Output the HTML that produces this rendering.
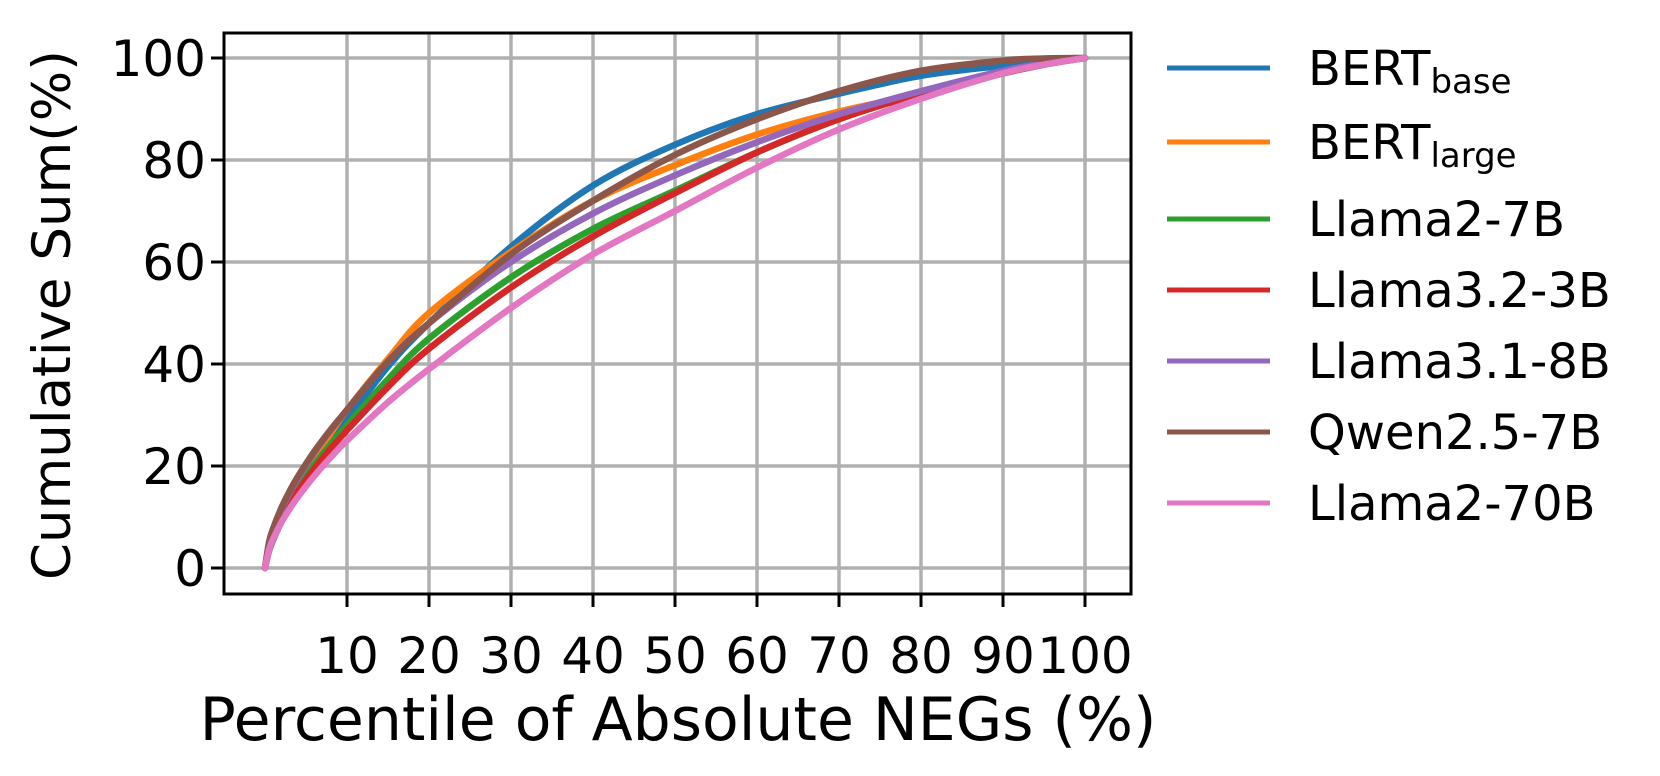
<!DOCTYPE html>
<html><head><meta charset="utf-8"><style>
html,body{margin:0;padding:0;background:#fff;}
svg{display:block;font-family:"DejaVu Sans","Liberation Sans",sans-serif;}
</style></head><body>
<svg id="s" width="1660" height="776" viewBox="0 0 1660 776" xmlns="http://www.w3.org/2000/svg">
<rect width="1660" height="776" fill="#fff"/>
<g stroke="#b0b0b0" stroke-width="3.5">
<line x1="347" y1="33" x2="347" y2="594"/><line x1="429" y1="33" x2="429" y2="594"/><line x1="511" y1="33" x2="511" y2="594"/><line x1="593" y1="33" x2="593" y2="594"/><line x1="675" y1="33" x2="675" y2="594"/><line x1="757" y1="33" x2="757" y2="594"/><line x1="839" y1="33" x2="839" y2="594"/><line x1="921" y1="33" x2="921" y2="594"/><line x1="1003" y1="33" x2="1003" y2="594"/><line x1="1085" y1="33" x2="1085" y2="594"/>
<line x1="224" y1="568" x2="1131" y2="568"/><line x1="224" y1="466" x2="1131" y2="466"/><line x1="224" y1="364" x2="1131" y2="364"/><line x1="224" y1="262" x2="1131" y2="262"/><line x1="224" y1="160" x2="1131" y2="160"/><line x1="224" y1="58" x2="1131" y2="58"/>
</g>
<g id="curves" fill="none" stroke-width="6.5" stroke-linejoin="round" stroke-linecap="round"></g>
<rect x="224" y="33" width="907" height="561" fill="none" stroke="#000" stroke-width="3"/>
<g stroke="#000" stroke-width="3">
<line x1="347" y1="594" x2="347" y2="607"/><line x1="429" y1="594" x2="429" y2="607"/><line x1="511" y1="594" x2="511" y2="607"/><line x1="593" y1="594" x2="593" y2="607"/><line x1="675" y1="594" x2="675" y2="607"/><line x1="757" y1="594" x2="757" y2="607"/><line x1="839" y1="594" x2="839" y2="607"/><line x1="921" y1="594" x2="921" y2="607"/><line x1="1003" y1="594" x2="1003" y2="607"/><line x1="1085" y1="594" x2="1085" y2="607"/>
<line x1="211" y1="568" x2="224" y2="568"/><line x1="211" y1="466" x2="224" y2="466"/><line x1="211" y1="364" x2="224" y2="364"/><line x1="211" y1="262" x2="224" y2="262"/><line x1="211" y1="160" x2="224" y2="160"/><line x1="211" y1="58" x2="224" y2="58"/>
</g>
<g font-size="50" text-anchor="middle" fill="#000">
<text x="347" y="673">10</text><text x="429" y="673">20</text><text x="511" y="673">30</text><text x="593" y="673">40</text><text x="675" y="673">50</text><text x="757" y="673">60</text><text x="839" y="673">70</text><text x="921" y="673">80</text><text x="1003" y="673">90</text><text x="1085" y="673">100</text>
</g>
<g font-size="50" text-anchor="end" fill="#000">
<text x="206" y="586">0</text><text x="206" y="484">20</text><text x="206" y="382">40</text><text x="206" y="280">60</text><text x="206" y="178">80</text><text x="206" y="76">100</text>
</g>
<text x="678" y="740" font-size="60" text-anchor="middle">Percentile of Absolute NEGs (%)</text>
<text transform="translate(70,315) rotate(-90)" font-size="53" text-anchor="middle">Cumulative Sum(%)</text>
<g stroke-width="5">
<line x1="1167" y1="68" x2="1270" y2="68" stroke="#1f77b4"/>
<line x1="1167" y1="142" x2="1270" y2="142" stroke="#ff7f0e"/>
<line x1="1167" y1="219" x2="1270" y2="219" stroke="#2ca02c"/>
<line x1="1167" y1="290" x2="1270" y2="290" stroke="#d62728"/>
<line x1="1167" y1="361" x2="1270" y2="361" stroke="#9467bd"/>
<line x1="1167" y1="432" x2="1270" y2="432" stroke="#8c564b"/>
<line x1="1167" y1="503" x2="1270" y2="503" stroke="#e377c2"/>
</g>
<g font-size="48" fill="#000">
<text x="1308" y="85">BERT<tspan font-size="34" dy="8">base</tspan></text>
<text x="1308" y="159">BERT<tspan font-size="34" dy="8">large</tspan></text>
<text x="1308" y="236">Llama2-7B</text>
<text x="1308" y="307">Llama3.2-3B</text>
<text x="1308" y="378">Llama3.1-8B</text>
<text x="1308" y="449">Qwen2.5-7B</text>
<text x="1308" y="520">Llama2-70B</text>
</g>
</svg>
<script>
var X=[0,0.5,1,2,3,4,6,8,10,15,20,30,40,50,60,70,80,90,95,100];
var S=[
["#1f77b4",29,0.72,[39.5,48,63,75,83,89,93,96.5,98.5,99.4,100]],
["#ff7f0e",31,0.72,[41,50,62,72,79,85,89.5,93,97,98.7,100]],
["#2ca02c",28,0.64,[37,45,57,66.5,74,81.5,88,93,97,98.7,100]],
["#d62728",27,0.64,[35.5,43,55,65,73.5,81.5,88,93,97,98.7,100]],
["#9467bd",31,0.62,[40.5,48,60,69.5,77,83.5,89,93.5,97.5,98.9,100]],
["#8c564b",31,0.6,[40.5,48,61.5,72,81,88,93.5,97.5,99.5,99.9,100]],
["#e377c2",25,0.64,[32.5,39,51,61.5,70,78.5,86,92,97,98.7,100]]];
function px(v){return 347+(v-10)*8.2;}function py(v){return 568-5.1*v;}
var g=document.getElementById("curves"),ns="http://www.w3.org/2000/svg";
S.forEach(function(s){
var v10=s[1],p=s[2],vals=[];
[0,0.5,1,2,3,4,6,8].forEach(function(x){vals.push(v10*Math.pow(x/10,p));});
vals.push(v10);vals=vals.concat(s[3]);
var P=X.map(function(x,i){return [px(x),py(vals[i])];});
var d="M"+P[0][0]+","+P[0][1];
for(var i=0;i<P.length-1;i++){var p0=P[Math.max(0,i-1)],p1=P[i],p2=P[i+1],p3=P[Math.min(P.length-1,i+2)];
var c1=[p1[0]+(p2[0]-p0[0])/6,p1[1]+(p2[1]-p0[1])/6],c2=[p2[0]-(p3[0]-p1[0])/6,p2[1]-(p3[1]-p1[1])/6];
d+=" C"+c1[0]+","+c1[1]+" "+c2[0]+","+c2[1]+" "+p2[0]+","+p2[1];}
var e=document.createElementNS(ns,"path");e.setAttribute("d",d);e.setAttribute("stroke",s[0]);g.appendChild(e);});
</script>
</body></html>
